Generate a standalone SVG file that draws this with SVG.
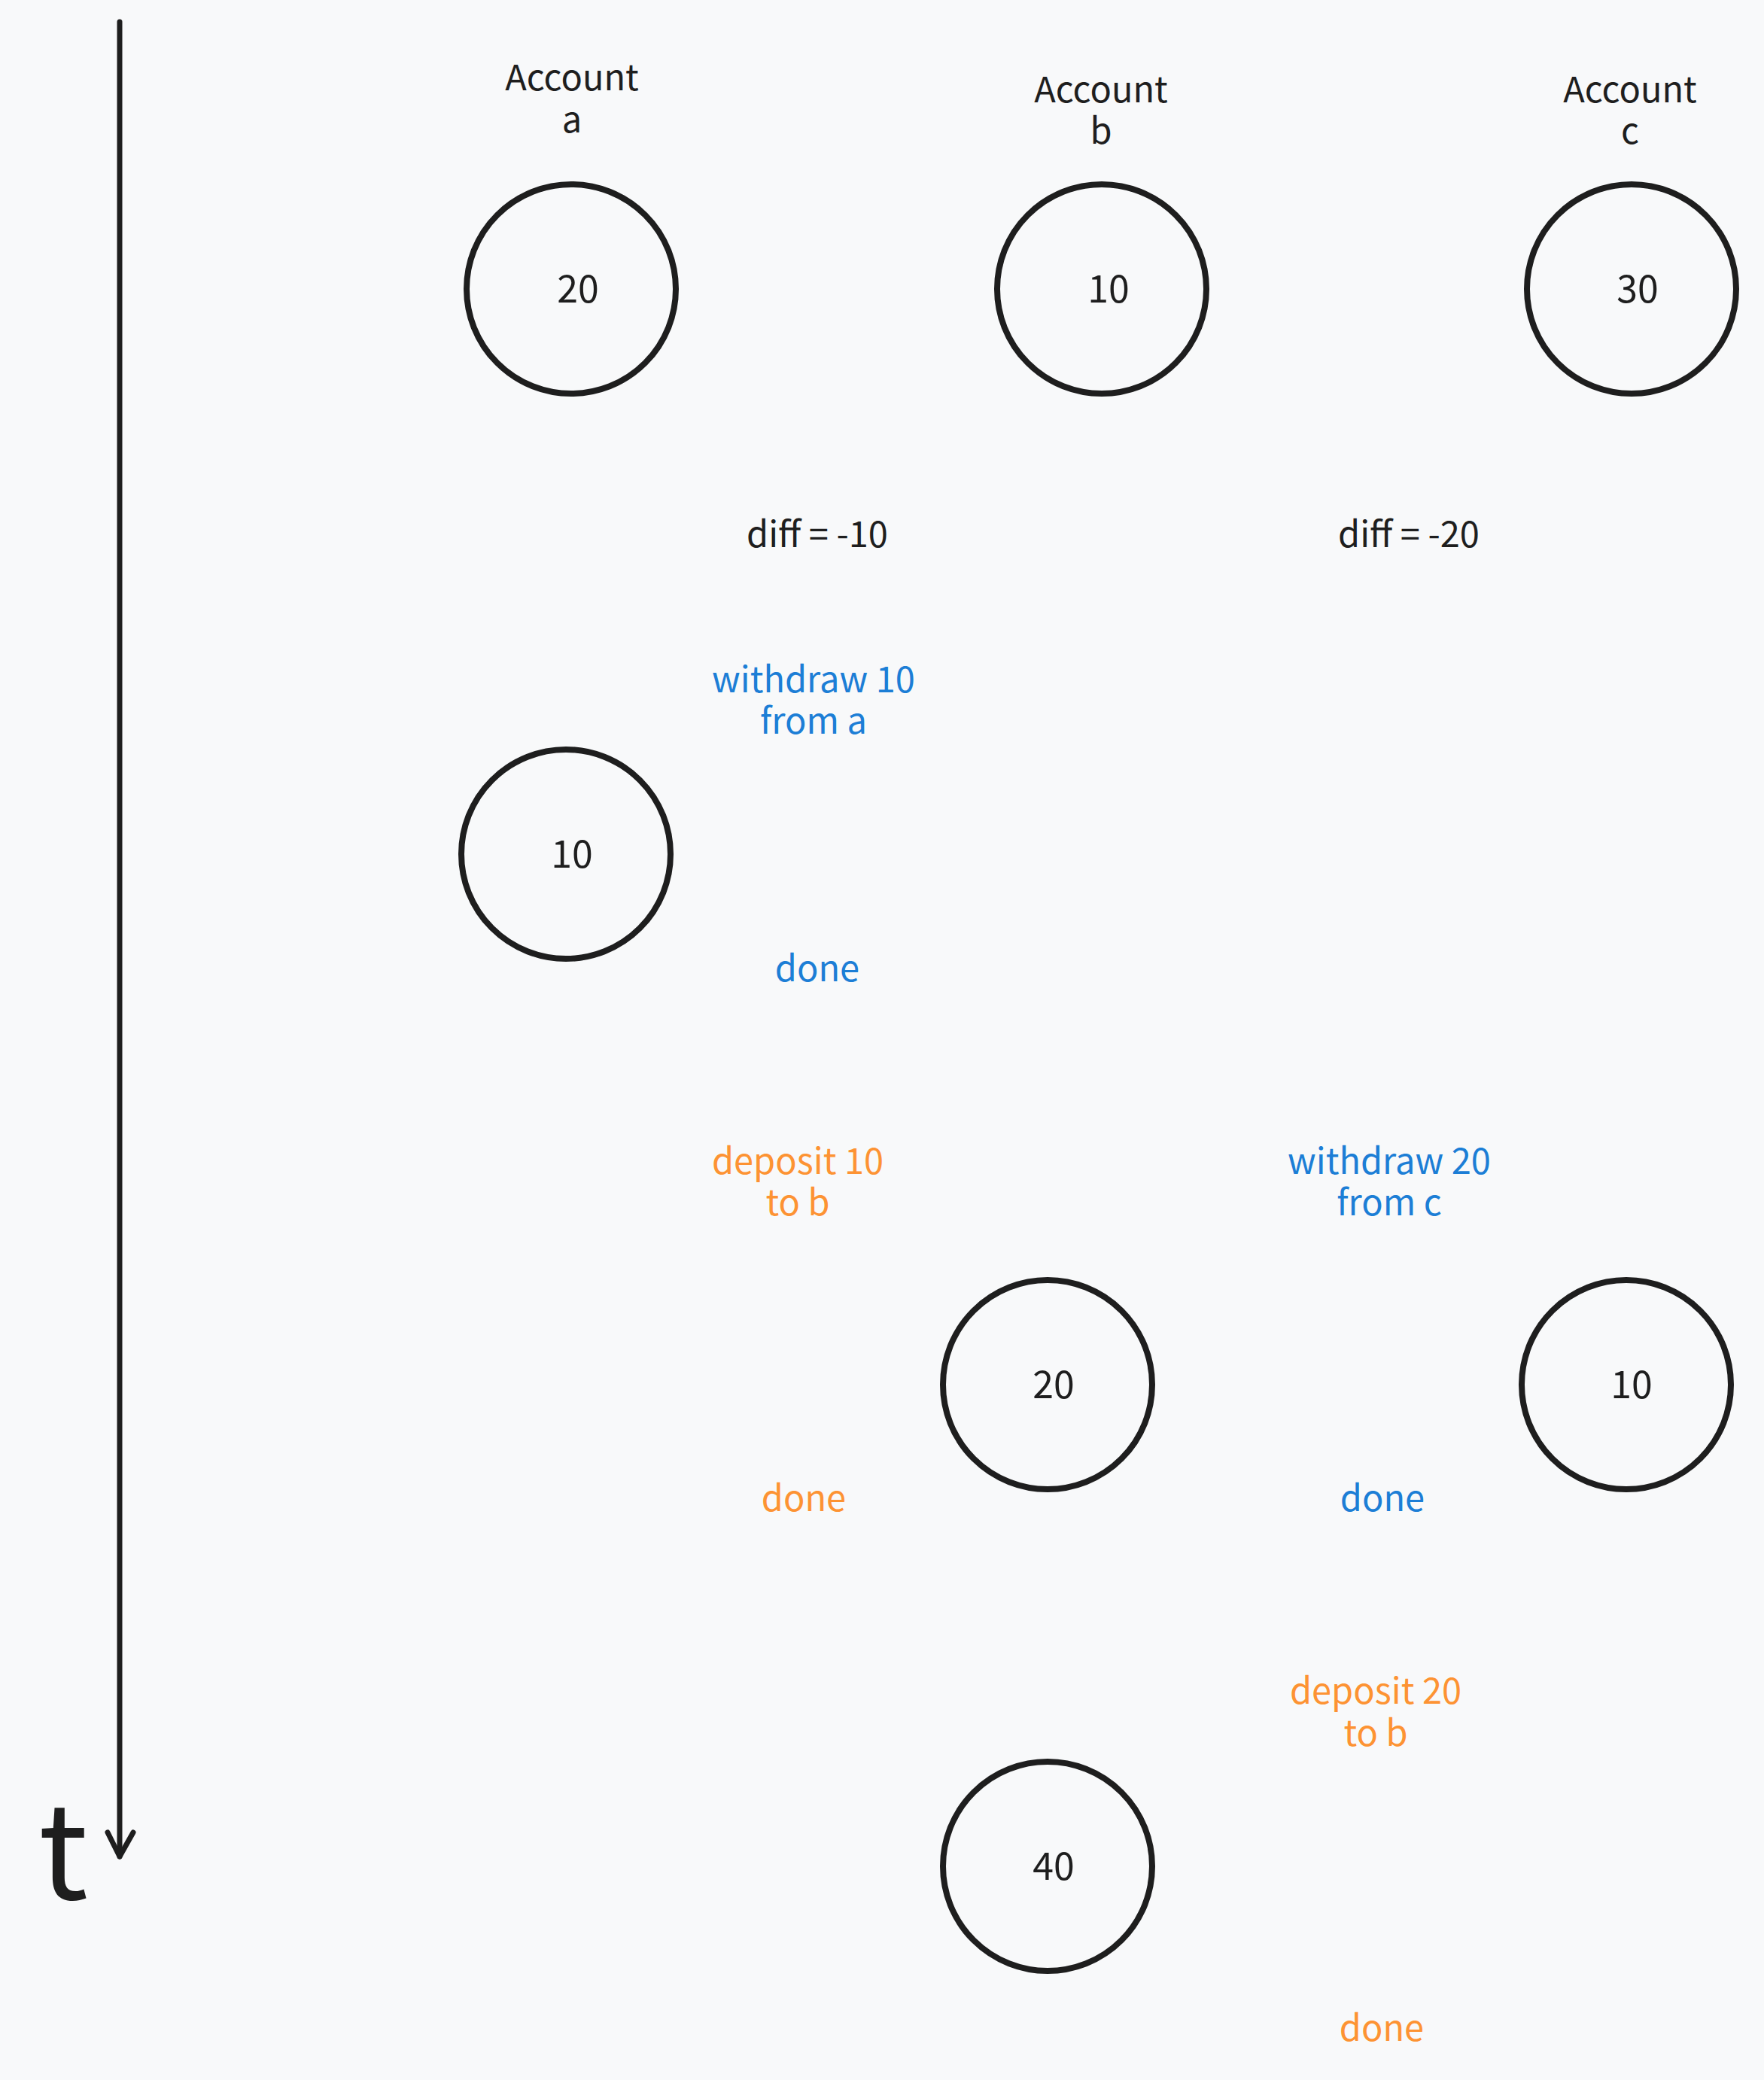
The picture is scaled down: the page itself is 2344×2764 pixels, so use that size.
<svg xmlns="http://www.w3.org/2000/svg" width="2344" height="2764" viewBox="0 0 2344 2764">
<style>
text{font-family:"Noto Sans CJK SC","Noto Sans",sans-serif;text-anchor:middle;}
.lbl{font-size:47px;fill:#1e1e1e;}
.num{font-size:50px;fill:#1e1e1e;}
.blue{font-size:47px;fill:#1c7ed6;}
.orange{font-size:47px;fill:#fd9333;}
.acct{fill:none;stroke:#1e1e1e;stroke-width:8;}
.axis{fill:none;stroke:#1e1e1e;stroke-width:7;stroke-linecap:round;stroke-linejoin:round;}
</style>
<rect width="2344" height="2764" fill="#f8f9fa"/>
<g id="connectors">
<path class="axis" d="M159 29 L159 2467"/>
<path class="axis" d="M143 2435 L159 2467 L177 2435"/>
</g>
<g id="time-label"><text x="84" y="2524" style="font-size:175px;fill:#1e1e1e">t</text></g>
<g id="header-a"><text class="lbl" x="760" y="120">Account<tspan x="760" dy="56">a</tspan></text></g>
<g id="header-b"><text class="lbl" x="1463" y="136">Account<tspan x="1463" dy="55">b</tspan></text></g>
<g id="header-c"><text class="lbl" x="2166" y="136">Account<tspan x="2166" dy="55">c</tspan></text></g>
<g id="a1"><circle class="acct" cx="759" cy="384" r="139"/><text class="num" x="768" y="402">20</text></g>
<g id="b1"><circle class="acct" cx="1464" cy="384" r="139"/><text class="num" x="1473" y="402">10</text></g>
<g id="c1"><circle class="acct" cx="2168" cy="384" r="139"/><text class="num" x="2176" y="402">30</text></g>
<g id="diff-ab"><text class="lbl" x="1086" y="727">diff = -10</text></g>
<g id="diff-bc"><text class="lbl" x="1872" y="727">diff = -20</text></g>
<g id="withdraw-a"><text class="blue" x="1081" y="920">withdraw 10<tspan x="1081" dy="55">from a</tspan></text></g>
<g id="a2"><circle class="acct" cx="752" cy="1135" r="139"/><text class="num" x="760" y="1153">10</text></g>
<g id="done-a"><text class="blue" x="1086" y="1304">done</text></g>
<g id="deposit-b1"><text class="orange" x="1060" y="1560">deposit 10<tspan x="1060" dy="55">to b</tspan></text></g>
<g id="withdraw-c"><text class="blue" x="1846" y="1560">withdraw 20<tspan x="1846" dy="55">from c</tspan></text></g>
<g id="b2"><circle class="acct" cx="1392" cy="1840" r="139"/><text class="num" x="1400" y="1858">20</text></g>
<g id="c2"><circle class="acct" cx="2161" cy="1840" r="139"/><text class="num" x="2168" y="1858">10</text></g>
<g id="done-b1"><text class="orange" x="1068" y="2008">done</text></g>
<g id="done-c"><text class="blue" x="1837" y="2008">done</text></g>
<g id="deposit-b2"><text class="orange" x="1828" y="2264">deposit 20<tspan x="1828" dy="56">to b</tspan></text></g>
<g id="b3"><circle class="acct" cx="1392" cy="2480" r="139"/><text class="num" x="1400" y="2498">40</text></g>
<g id="done-b2"><text class="orange" x="1836" y="2712">done</text></g>
</svg>
